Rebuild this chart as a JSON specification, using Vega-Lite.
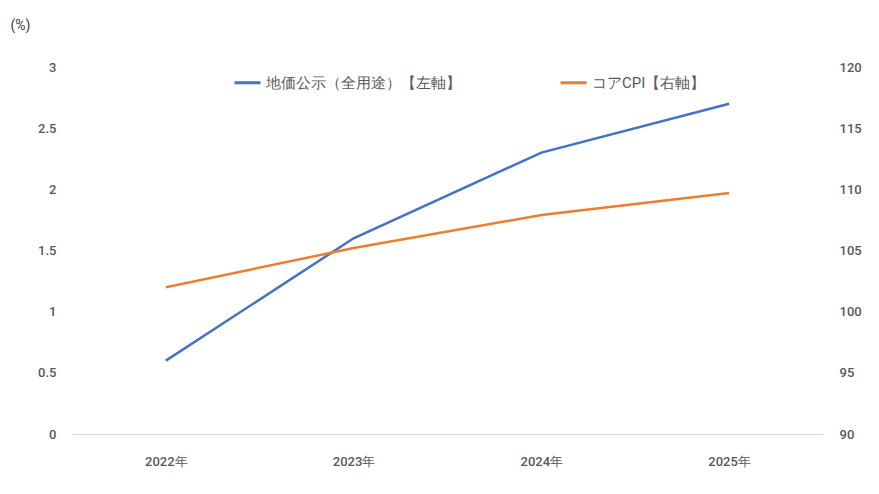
{
  "$schema": "https://vega.github.io/schema/vega-lite/v6.json",
  "width": 751,
  "height": 367,
  "autosize": {"type": "none"},
  "padding": {"left": 72, "top": 67, "right": 56, "bottom": 60},
  "background": "white",
  "config": {
    "view": {"stroke": null},
    "font": "Roboto",
    "axis": {"labelFont": "Roboto", "labelColor": "#595959", "labelFontSize": 13, "labelFontWeight": 500, "ticks": false, "grid": false}
  },
  "data": {
    "values": [
      {"year": "2022年", "series": "地価公示（全用途）【左軸】", "value": 0.6},
      {"year": "2023年", "series": "地価公示（全用途）【左軸】", "value": 1.6},
      {"year": "2024年", "series": "地価公示（全用途）【左軸】", "value": 2.3},
      {"year": "2025年", "series": "地価公示（全用途）【左軸】", "value": 2.7},
      {"year": "2022年", "series": "コアCPI【右軸】", "value": 102.0},
      {"year": "2023年", "series": "コアCPI【右軸】", "value": 105.2},
      {"year": "2024年", "series": "コアCPI【右軸】", "value": 107.9},
      {"year": "2025年", "series": "コアCPI【右軸】", "value": 109.7}
    ]
  },
  "encoding": {
    "x": {
      "field": "year", "type": "ordinal", "sort": null,
      "scale": {"type": "point", "padding": 0.5},
      "axis": {"title": null, "labelAngle": 0, "labelPadding": 21, "domain": true, "domainColor": "#d9d9d9", "domainWidth": 1}
    },
    "color": {
      "field": "series", "type": "nominal",
      "scale": {"domain": ["地価公示（全用途）【左軸】", "コアCPI【右軸】"], "range": ["#4472C4", "#ED7D31"]},
      "legend": {
        "title": null, "orient": "none", "direction": "horizontal",
        "legendX": 161, "legendY": 1,
        "symbolType": "stroke", "symbolSize": 676, "symbolStrokeWidth": 3,
        "labelFont": "Roboto", "labelFontSize": 15, "labelColor": "#595959",
        "labelOffset": 4, "columnPadding": 93, "labelLimit": 400
      }
    }
  },
  "layer": [
    {
      "transform": [{"filter": "datum.series === '地価公示（全用途）【左軸】'"}],
      "mark": {"type": "line", "strokeWidth": 2.5},
      "encoding": {
        "y": {
          "field": "value", "type": "quantitative",
          "scale": {"domain": [0, 3], "nice": false},
          "axis": {"orient": "left", "values": [0, 0.5, 1, 1.5, 2, 2.5, 3], "format": "~g", "domain": false, "labelPadding": 16,
            "title": "(%)", "titleAngle": 0, "titleX": -62, "titleY": -42, "titleAlign": "left", "titleBaseline": "middle",
            "titleFont": "Roboto", "titleFontSize": 14, "titleFontWeight": "normal", "titleColor": "#404040"}
        }
      }
    },
    {
      "transform": [{"filter": "datum.series === 'コアCPI【右軸】'"}],
      "mark": {"type": "line", "strokeWidth": 2.5},
      "encoding": {
        "y": {
          "field": "value", "type": "quantitative",
          "scale": {"domain": [90, 120], "nice": false, "zero": false},
          "axis": {"orient": "right", "values": [90, 95, 100, 105, 110, 115, 120], "domain": false, "labelPadding": 16, "title": null}
        }
      }
    }
  ],
  "resolve": {"scale": {"y": "independent"}}
}
